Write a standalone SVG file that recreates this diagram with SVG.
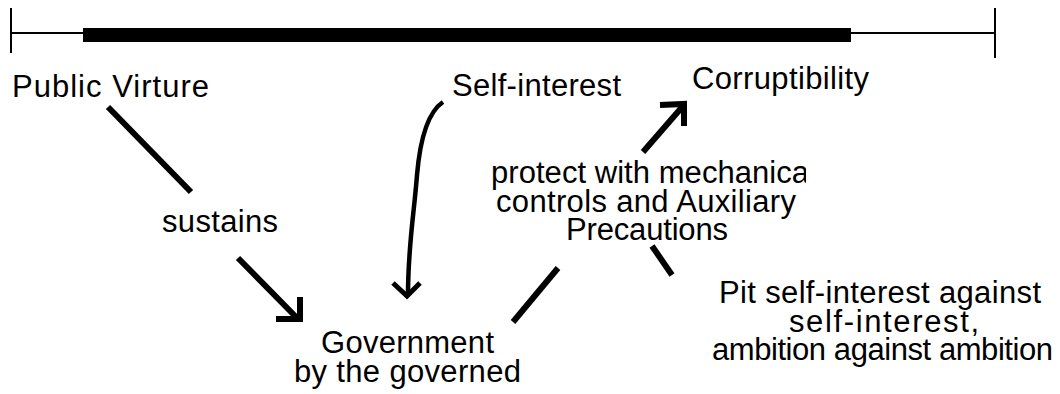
<svg xmlns="http://www.w3.org/2000/svg" width="1060" height="394" viewBox="0 0 1060 394">
<style>
text{font-family:"Liberation Sans",Arial,sans-serif;font-size:31px;fill:#000}
.c{fill:none;stroke:#000;stroke-width:6;stroke-linecap:butt;stroke-linejoin:miter}
.thin{fill:none;stroke:#000;stroke-width:2}
</style>
<defs>
<clipPath id="clipMech"><rect x="400" y="150" width="406" height="45"/></clipPath>
</defs>
<rect width="1060" height="394" fill="#fff"/>
<g id="scale">
<line class="thin" x1="11" y1="33" x2="995" y2="33"/>
<line class="thin" x1="11" y1="8" x2="11" y2="53"/>
<line class="thin" x1="995" y1="8" x2="995" y2="58"/>
<rect x="83" y="28" width="768" height="14" fill="#000"/>
</g>
<g id="connectors">
<line class="c" x1="108" y1="107" x2="191" y2="192"/>
<text x="162" y="232" textLength="116">sustains</text>
<line class="c" x1="238" y1="258" x2="298" y2="319"/>
<polyline class="c" points="276,319 300,319 300,297"/>
<path class="c" style="stroke-width:4.5" d="M443,102 C428,112 420,140 417,175 C414,215 408,245 408,295"/>
<polyline class="c" style="stroke-width:5" points="393,283 407,296 420,283"/>
<line class="c" x1="513" y1="322" x2="558" y2="268"/>
<line class="c" x1="643" y1="152" x2="683" y2="106"/>
<polyline class="c" points="660,105 684,104 684,126"/>
<line class="c" x1="652" y1="246" x2="672" y2="275"/>
</g>
<g id="public-virture"><text x="12" y="97" textLength="197">Public Virture</text></g>
<g id="self-interest"><text x="452" y="96" textLength="169">Self-interest</text></g>
<g id="corruptibility"><text x="692" y="89" textLength="177">Corruptibility</text></g>
<g id="government">
<text x="321" y="353" textLength="173">Government</text>
<text x="294" y="382" textLength="227">by the governed</text>
</g>
<g id="mechanical-controls">
<text x="491" y="183" textLength="318" clip-path="url(#clipMech)">protect with mechanica</text>
<text x="496" y="212" textLength="300">controls and Auxiliary</text>
<text x="566" y="240" textLength="162">Precautions</text>
</g>
<g id="pit-self-interest">
<text x="719" y="303" textLength="322">Pit self-interest against</text>
<text x="789" y="332" textLength="190">self-interest,</text>
<text x="712" y="360" textLength="341">ambition against ambition</text>
</g>
</svg>
